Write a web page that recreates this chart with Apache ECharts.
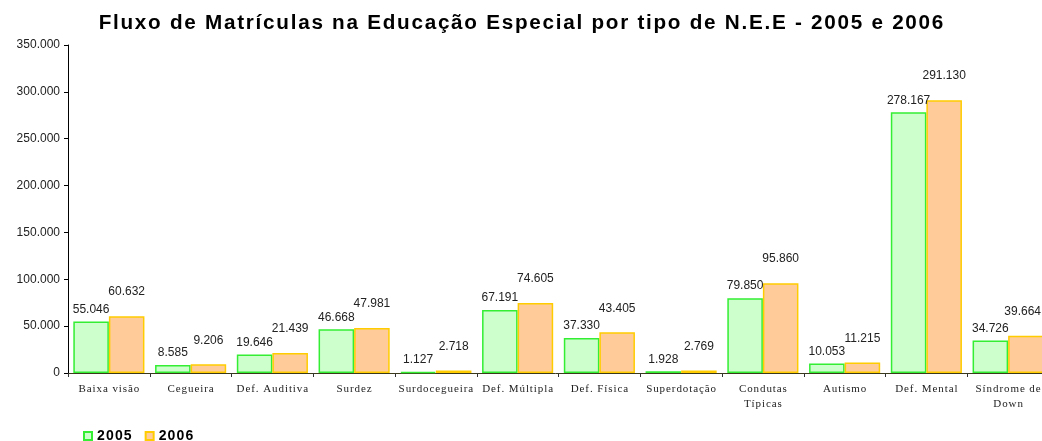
<!DOCTYPE html>
<html><head><meta charset="utf-8">
<script src="https://cdn.jsdelivr.net/npm/echarts@6/dist/echarts.min.js"></script>
<style>html,body{margin:0;padding:0;background:#fff}#c{width:1042px;height:441px}</style>
</head><body><div id="c"></div>
<script>
const categories = ["Baixa visão","Cegueira","Def. Auditiva","Surdez","Surdocegueira","Def. Múltipla","Def. Física","Superdotação","Condutas\nTípicas","Autismo","Def. Mental","Síndrome de\nDown"];
const values2005 = [55046, 8585, 19646, 46668, 1127, 67191, 37330, 1928, 79850, 10053, 278167, 34726];
const values2006 = [60632, 9206, 21439, 47981, 2718, 74605, 43405, 2769, 95860, 11215, 291130, 39664];
const seriesNames = ["2005","2006"];
const titleText = "Fluxo de Matrículas na Educação Especial por tipo de N.E.E - 2005 e 2006";

const fmt = v => Math.round(v).toString().replace(/\B(?=(\d{3})+(?!\d))/g, ".");
const spaced = s => s.split('\n').map(t => t.split('').join('\u200A')).join('\n');
const W = 1042;
const clampLabel = function(params){
  const r = params.labelRect;
  const over = r.x + r.width - (W - 1);
  if (over > 0) return {dx: -over};
  return {};
};

const chart = echarts.init(document.getElementById('c'), null, {renderer:'canvas'});
chart.setOption({
  animation:false,
  backgroundColor:'#fff',
  title:{text:spaced(titleText),left:'center',top:8,textStyle:{fontFamily:'Liberation Sans, Arial',fontSize:20.7,fontWeight:'bold',color:'#000'}},
  legend:{left:83,top:429,padding:0,itemWidth:8,itemHeight:8,itemGap:13,icon:'rect',
    formatter:n=>spaced(n),
    textStyle:{fontFamily:'Liberation Sans, Arial',fontSize:14,fontWeight:'bold',color:'#000'},
    data:seriesNames},
  grid:{left:68,top:45,width:981,height:328,containLabel:false,outerBoundsMode:'none'},
  xAxis:{type:'category',data:categories,
    axisLine:{lineStyle:{color:'#3a3a1a',width:1}},
    axisTick:{show:true,alignWithLabel:false,length:4,lineStyle:{color:'#333'}},
    axisLabel:{interval:0,margin:9,fontFamily:'Liberation Serif, Times New Roman',fontSize:11,color:'#222',lineHeight:15,
      formatter:v=>spaced(v)}},
  yAxis:{type:'value',min:0,max:350000,interval:50000,
    axisLine:{show:true,lineStyle:{color:'#000'}},
    axisTick:{show:true,length:4,lineStyle:{color:'#000'}},
    splitLine:{show:false},
    axisLabel:{fontFamily:'Liberation Sans, Arial',fontSize:12,color:'#222',margin:8,formatter:fmt}},
  series:[
    {name:seriesNames[0],type:'bar',data:values2005,barGap:'0%',barCategoryGap:'13%',
     itemStyle:{color:'#ccffcc',borderColor:'#33ee33',borderWidth:1.5},
     labelLayout:clampLabel,
     label:{show:true,position:'top',distance:6,fontFamily:'Liberation Sans, Arial',fontSize:12,color:'#222',formatter:p=>fmt(p.value)}},
    {name:seriesNames[1],type:'bar',data:values2006,barGap:'0%',barCategoryGap:'13%',
     itemStyle:{color:'#ffcc99',borderColor:'#ffcc00',borderWidth:1.5},
     labelLayout:clampLabel,
     label:{show:true,position:'top',distance:18,fontFamily:'Liberation Sans, Arial',fontSize:12,color:'#222',formatter:p=>fmt(p.value)}}
  ]
});
</script></body></html>
